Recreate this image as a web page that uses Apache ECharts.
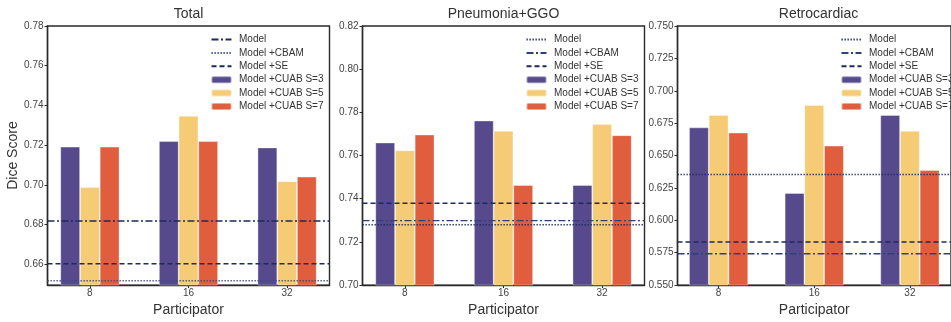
<!DOCTYPE html>
<html><head><meta charset="utf-8">
<script src="https://cdn.jsdelivr.net/npm/echarts@6/dist/echarts.min.js"></script>
<style>html,body{margin:0;padding:0;background:#fff}#c{width:951px;height:322px}</style>
</head><body><div id="c"></div>
<script>
// ---------- data ----------
const participants = ['8', '16', '32'];
const panelTitles = ['Total', 'Pneumonia+GGO', 'Retrocardiac'];
const seriesNames = ['Model', 'Model +CBAM', 'Model +SE', 'Model +CUAB S=3', 'Model +CUAB S=5', 'Model +CUAB S=7'];

const totalS3 = [0.7192, 0.7220, 0.7188];
const totalS5 = [0.6988, 0.7348, 0.7018];
const totalS7 = [0.7192, 0.7220, 0.7041];
const totalBaselines = [0.6818, 0.6517, 0.6603]; // Model, +CBAM, +SE

const pneuS3 = [0.7660, 0.7762, 0.7463];
const pneuS5 = [0.7624, 0.7714, 0.7746];
const pneuS7 = [0.7697, 0.7463, 0.7694];
const pneuBaselines = [0.7279, 0.7299, 0.7379];

const retroS3 = [0.6717, 0.6210, 0.6813];
const retroS5 = [0.6813, 0.6889, 0.6690];
const retroS7 = [0.6677, 0.6576, 0.6387];
const retroBaselines = [0.6354, 0.5742, 0.5833];

const yTicksTotal = [0.66, 0.68, 0.70, 0.72, 0.74, 0.76, 0.78];
const yTicksPneu = [0.70, 0.72, 0.74, 0.76, 0.78, 0.80, 0.82];
const yTicksRetro = [0.550, 0.575, 0.600, 0.625, 0.650, 0.675, 0.700, 0.725, 0.750];

// ---------- styles ----------
const FONT = '"Liberation Sans", Arial, sans-serif';
const NAVY = '#1c2a5c';
const barColors = ['#564a8c', '#f5cb76', '#e05d3e'];
const DASHDOT = [7, 2.5, 2, 2.5];
const DOTTED = [1.3, 1.7];
const DASHED = [5, 3];
const XMIN = -0.43, XMAX = 2.43;

const panels = [
  { bars: [totalS3, totalS5, totalS7], base: totalBaselines, yTicks: yTicksTotal, ymin: 0.6495, ymax: 0.78, dec: 2,
    lines: [{ type: DASHDOT, w: 1.5, c: NAVY }, { type: DOTTED, w: 1.3, c: '#3a4a86' }, { type: DASHED, w: 1.5, c: NAVY }] },
  { bars: [pneuS3, pneuS5, pneuS7], base: pneuBaselines, yTicks: yTicksPneu, ymin: 0.70, ymax: 0.82, dec: 2,
    lines: [{ type: DOTTED, w: 1.5, c: NAVY }, { type: DASHDOT, w: 1.3, c: '#2f407a' }, { type: DASHED, w: 1.5, c: NAVY }] },
  { bars: [retroS3, retroS5, retroS7], base: retroBaselines, yTicks: yTicksRetro, ymin: 0.55, ymax: 0.75, dec: 3,
    lines: [{ type: DOTTED, w: 1.5, c: NAVY }, { type: DASHDOT, w: 1.3, c: '#2f407a' }, { type: DASHED, w: 1.5, c: NAVY }] }
];
const gridLefts = [47.5, 362.5, 677.5];
const GRID_W = 282, GRID_TOP = 26, GRID_H = 265;

const grid = [], xAxis = [], yAxis = [], series = [], legend = [], title = [];
panels.forEach((p, i) => {
  grid.push({ left: gridLefts[i], top: GRID_TOP, width: GRID_W, height: GRID_H, show: true,
    borderColor: '#2a2a2a', borderWidth: 1.4, backgroundColor: 'transparent', containLabel: false });
  title.push({ text: panelTitles[i], left: gridLefts[i] + GRID_W / 2, top: 7, textAlign: 'center', padding: 0,
    textStyle: { fontFamily: FONT, fontSize: 14, fontWeight: 'normal', color: '#333' } });
  xAxis.push({ type: 'value', gridIndex: i, min: XMIN, max: XMAX,
    name: 'Participator', nameLocation: 'middle', nameGap: 16,
    nameTextStyle: { fontFamily: FONT, fontSize: 14, color: '#333' },
    splitLine: { show: false },
    axisLine: { show: true, onZero: false, lineStyle: { color: '#2a2a2a', width: 1.4 } },
    axisTick: { show: true, length: 3, customValues: [0, 1, 2], lineStyle: { color: '#2a2a2a', width: 1 } },
    axisLabel: { customValues: [0, 1, 2], margin: 3, formatter: v => participants[Math.round(v)],
      fontFamily: FONT, fontSize: 10, color: '#444' } });
  yAxis.push({ type: 'value', gridIndex: i, min: p.ymin, max: p.ymax,
    name: i === 0 ? 'Dice Score' : '', nameLocation: 'middle', nameGap: 24,
    nameTextStyle: { fontFamily: FONT, fontSize: 14, color: '#333' },
    splitLine: { show: false },
    axisLine: { show: true, onZero: false, lineStyle: { color: '#2a2a2a', width: 1.4 } },
    axisTick: { show: true, length: 3, customValues: p.yTicks, lineStyle: { color: '#2a2a2a', width: 1 } },
    axisLabel: { customValues: p.yTicks, margin: 4, formatter: v => v.toFixed(p.dec),
      fontFamily: FONT, fontSize: 10, color: '#444' } });
  const sfx = '|' + i;
  p.base.forEach((v, k) => {
    const ls = p.lines[k];
    series.push({ type: 'line', name: seriesNames[k] + sfx, xAxisIndex: i, yAxisIndex: i,
      data: [[XMIN, v], [XMAX, v]], symbol: 'none', showSymbol: false, z: 5, silent: true,
      color: ls.c, lineStyle: { color: ls.c, width: ls.w, type: ls.type }, animation: false });
  });
  p.bars.forEach((arr, k) => {
    series.push({ type: 'bar', name: seriesNames[3 + k] + sfx, xAxisIndex: i, yAxisIndex: i,
      data: arr.map((v, j) => [j, v]), barWidth: 19.7, barGap: '0%', z: 2, animation: false,
      itemStyle: { color: barColors[k], borderColor: 'rgba(255,255,255,0.45)', borderWidth: 0.8 } });
  });
  legend.push({ orient: 'vertical', left: gridLefts[i] + 163, top: 33.5, itemWidth: 20, itemHeight: 7, itemGap: 1.4,
    padding: 0, selectedMode: false,
    data: seriesNames.map((n, k) => k < 3
      ? { name: n + sfx, itemStyle: { opacity: 0 } }
      : { name: n + sfx }),
    formatter: n => n.split('|')[0],
    textStyle: { fontFamily: FONT, fontSize: 10, color: '#333', lineHeight: 12, padding: [0, 0, 0, 2.5] } });
});

const chart = echarts.init(document.getElementById('c'), null, { renderer: 'canvas' });
chart.setOption({ backgroundColor: '#fff', animation: false, title, grid, xAxis, yAxis, series, legend });
</script>
</body></html>
